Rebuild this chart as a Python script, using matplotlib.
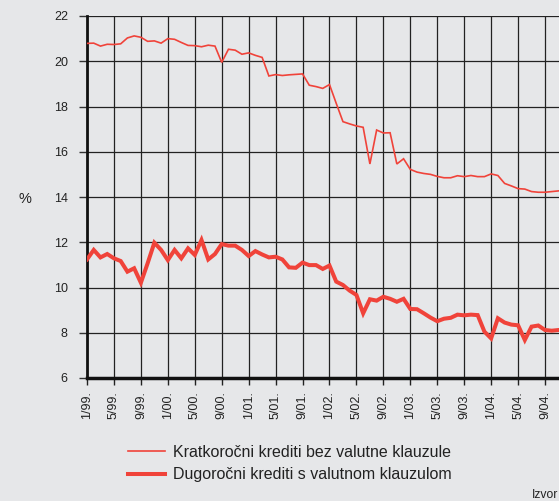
import matplotlib
matplotlib.use("Agg")
import matplotlib.pyplot as plt
import numpy as np

plt.rcParams['font.family'] = ['Liberation Sans', 'DejaVu Sans']

tick_labels = ["1/99.", "5/99.", "9/99.", "1/00.", "5/00.", "9/00.", "1/01.", "5/01.", "9/01.",
               "1/02.", "5/02.", "9/02.", "1/03.", "5/03.", "9/03.", "1/04.", "5/04.", "9/04."]

short_term = [20.79, 20.80, 20.67, 20.75, 20.74, 20.77, 21.03, 21.12, 21.06, 20.88,
              20.90, 20.80, 21.00, 20.97, 20.83, 20.70, 20.69, 20.64, 20.71, 20.67,
              19.95, 20.53, 20.49, 20.31, 20.37, 20.26, 20.17, 19.35, 19.41, 19.37,
              19.40, 19.42, 19.44, 18.94, 18.88, 18.80, 18.97, 18.14, 17.33, 17.23,
              17.14, 17.08, 15.46, 16.96, 16.83, 16.84, 15.46, 15.69, 15.22, 15.10,
              15.04, 15.00, 14.91, 14.85, 14.85, 14.94, 14.90, 14.95, 14.90, 14.90,
              15.02, 14.95, 14.60, 14.49, 14.37, 14.35, 14.24, 14.21, 14.21, 14.24,
              14.27]

long_term = [11.24, 11.66, 11.33, 11.48, 11.29, 11.17, 10.70, 10.85, 10.21, 11.07,
             11.98, 11.66, 11.21, 11.66, 11.29, 11.73, 11.44, 12.10, 11.24, 11.48,
             11.92, 11.85, 11.85, 11.66, 11.39, 11.61, 11.46, 11.33, 11.36, 11.24,
             10.89, 10.87, 11.10, 10.99, 10.99, 10.82, 10.97, 10.26, 10.11, 9.86,
             9.67, 8.86, 9.48, 9.42, 9.59, 9.50, 9.37, 9.50, 9.05, 9.04,
             8.86, 8.67, 8.51, 8.62, 8.66, 8.80, 8.77, 8.80, 8.78, 8.05,
             7.75, 8.64, 8.45, 8.36, 8.33, 7.68, 8.27, 8.32, 8.12, 8.09,
             8.12]

labels = ["Kratkoročni krediti bez valutne klauzule", "Dugoročni krediti s valutnom klauzulom"]

bg = "#e6e7e9"
red = "#f0433a"

W, H = 559, 501
fig = plt.figure(figsize=(W / 100, H / 100), dpi=100, facecolor=bg)
ax = fig.add_axes([87 / W, (H - 378) / H, (W - 87) / W, (378 - 16) / H], facecolor=bg)

months = np.arange(len(short_term))
l1, = ax.plot(months, short_term, color=red, lw=1.2, zorder=3, solid_joinstyle='miter')
l2, = ax.plot(months, long_term, color=red, lw=2.9, zorder=3, solid_joinstyle='miter')

ax.set_xlim(0, (W - 86.7) / 6.74)
ax.set_ylim(6, 22)
ax.set_yticks(np.arange(6, 23, 2))
ax.set_xticks(np.arange(len(tick_labels)) * 4)
ax.set_xticklabels(tick_labels, rotation=90, fontsize=9, color="#222222")
ax.tick_params(axis='y', labelsize=9, colors="#222222", length=5.8, width=1, pad=8, color="#333333")
ax.tick_params(axis='x', length=5, width=1, pad=4.3, color="#222222")

ax.grid(True, color="#222222", lw=0.9, zorder=1)
for s in ['top', 'right']:
    ax.spines[s].set_visible(False)
ax.spines['left'].set_linewidth(2.0)
ax.spines['bottom'].set_linewidth(2.5)
ax.spines['left'].set_color("#111111")
ax.spines['bottom'].set_color("#111111")

fig.text(24.5 / W, 1 - 199 / H, "%", fontsize=10.5, color="#222222", ha='center', va='center')

fig.legend([l1, l2], labels, loc='upper left', bbox_to_anchor=(128 / W, 1 - 445 / H),
           frameon=False, fontsize=11.5, handlelength=2.3, handletextpad=0.5,
           labelspacing=0.45, labelcolor="#222222", borderaxespad=0, borderpad=0)

fig.text(532 / W, 1 - 497.5 / H, "Izvor", fontsize=8.7, color="#222222", ha='left', va='baseline')

fig.savefig("out.png", dpi=100, facecolor=bg)
